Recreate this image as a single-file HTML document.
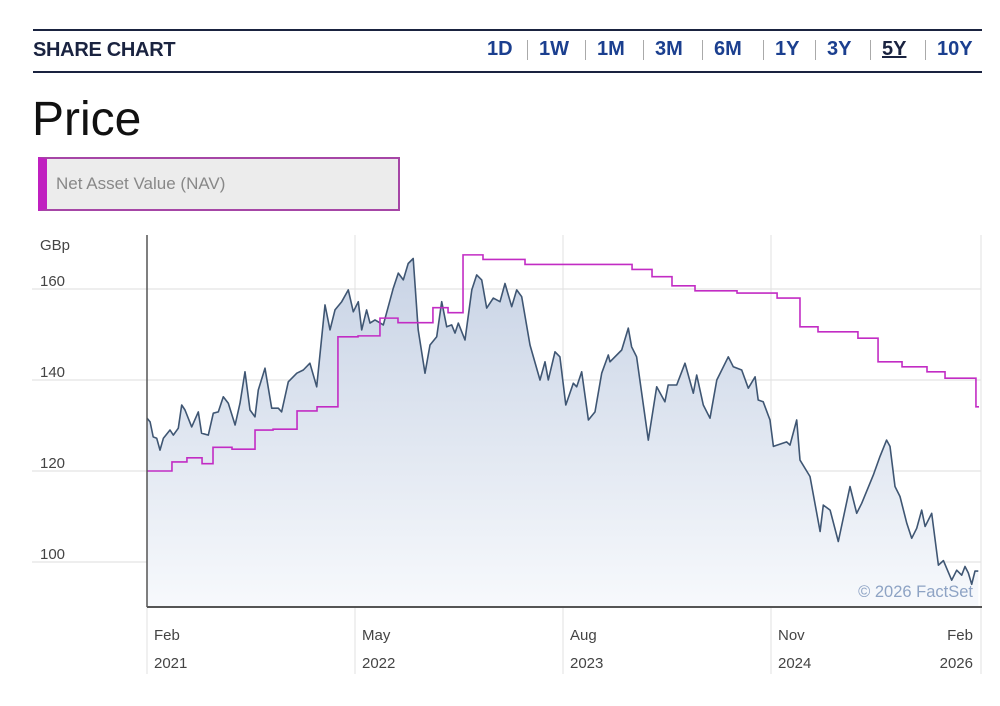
<!DOCTYPE html>
<html><head><meta charset="utf-8"><style>
body{margin:0;background:#fff;width:1000px;height:706px;overflow:hidden;font-family:"Liberation Sans",sans-serif;}
.abs{position:absolute;}
.tab{position:absolute;top:38px;font-size:20px;font-weight:bold;color:#1b3f8f;}
.sep{position:absolute;top:40px;width:1px;height:20px;background:#aaa;}
</style></head><body>
<div class="abs" style="left:33px;top:29px;width:949px;height:2px;background:#1a2340"></div>
<div class="abs" style="left:33px;top:39px;font-size:20px;font-weight:bold;color:#1a2340;letter-spacing:-0.3px">SHARE CHART</div>
<div class="abs" style="left:33px;top:71px;width:949px;height:2px;background:#1a2340"></div>
<div id="tabs"></div>
<div class="abs" style="left:32px;top:92px;font-size:48px;color:#111">Price</div>
<div class="abs" style="left:38px;top:157px;height:50px;background:#ececec;border:2px solid #a646a6;border-left:9px solid #c020c0;box-sizing:content-box;width:351px">
<span style="position:absolute;left:9px;top:15px;font-size:17px;color:#888">Net Asset Value (NAV)</span></div>
<svg class="abs" style="left:0;top:0" width="1000" height="706" id="chart">
<defs><linearGradient id="fg" x1="0" y1="0" x2="0" y2="1"><stop offset="0" stop-color="#c8d3e5"/><stop offset="1" stop-color="#f7f9fc"/></linearGradient></defs>
</svg>
<script>
const tabLabels=["1D","1W","1M","3M","6M","1Y","3Y","5Y","10Y"];
const tabX=[487,539,597,655,714,775,827,882,937];
const priceMonths=[0,0.22,0.45,0.70,0.94,1.18,1.66,1.90,2.26,2.50,2.74,3.22,3.70,3.94,4.42,4.78,5.14,5.50,5.86,6.35,6.71,7.07,7.43,7.79,8.03,8.51,8.99,9.47,9.71,10.19,10.80,11.27,11.75,12.24,12.84,13.20,13.56,14.04,14.52,14.88,15.24,15.48,15.84,16.08,16.44,17.04,17.76,18.12,18.48,18.84,19.20,19.56,20.05,20.41,20.89,21.25,21.61,21.97,22.21,22.45,22.93,23.42,23.78,24.14,24.50,24.97,25.46,25.82,26.30,26.66,27.02,27.62,28.34,28.70,28.94,29.42,29.78,30.20,30.74,30.99,31.35,31.83,32.31,32.79,33.27,33.39,34.23,34.71,34.95,35.31,36.15,36.76,37.35,37.59,38.20,38.80,39.40,39.64,40.12,40.60,41.09,41.92,42.28,42.89,43.36,43.85,44.08,44.44,44.93,45.17,46.13,46.37,46.85,47.09,47.81,48.54,48.77,49.26,49.85,50.70,51.18,51.54,52.38,52.86,53.34,53.58,53.94,54.30,54.79,55.15,55.51,55.87,56.11,56.59,57.07,57.43,58.03,58.39,58.75,58.99,59.23,59.47,59.71,59.95];
const priceValues=[131.6,130.8,127.5,127.2,124.6,127.2,129.0,127.9,129.4,134.5,133.4,129.7,133.0,128.3,127.9,132.7,133.0,136.3,134.9,130.1,134.9,141.8,133.4,131.9,137.8,142.6,133.8,133.8,133.0,139.6,141.5,142.2,143.7,138.5,156.5,151.0,155.4,157.2,159.8,155.0,157.2,151.0,155.4,152.5,153.2,152.1,160.2,163.5,162.0,165.6,166.7,151.0,141.5,147.7,149.5,157.2,151.7,152.1,150.3,152.5,148.8,159.8,163.1,162.0,155.8,158.0,157.2,161.2,156.1,159.8,158.3,147.7,140.0,144.0,140.0,146.2,145.1,134.5,139.3,138.5,141.8,131.2,133.0,141.5,145.5,144.0,146.6,151.4,147.3,145.1,126.8,138.5,135.2,138.9,138.9,143.7,137.1,141.1,134.5,131.6,140.0,145.1,142.9,142.2,138.2,140.7,135.6,135.2,131.2,125.4,126.4,125.7,131.2,122.4,118.8,106.7,112.5,111.4,104.5,116.6,110.7,112.9,119.1,123.2,126.8,125.4,116.6,114.4,108.5,105.2,107.4,111.4,107.8,110.7,99.3,100.3,96.0,98.2,97.1,99.0,97.6,95.1,98.0,98.0];
const navMonths=[0,1.80,2.88,3.97,4.76,6.13,7.79,9.09,10.82,12.26,13.77,15.22,16.80,18.10,20.62,21.71,22.79,24.23,27.26,33.25,34.98,36.42,37.86,39.52,42.55,45.44,47.09,48.39,51.27,52.72,54.45,56.25,57.55,59.78,60];
const navValues=[120.0,122.0,122.9,121.6,125.2,124.8,129.0,129.2,133.2,134.1,149.5,149.7,153.6,152.6,155.9,154.8,167.5,166.5,165.4,165.4,164.3,162.7,160.7,159.6,159.1,158.0,151.7,150.6,149.2,144.0,142.9,141.8,140.4,134.1,134.1];
const yTicks=[160,140,120,100];
const xTickMonths=[0,15,30,45,60];
const xTickMon=["Feb","May","Aug","Nov","Feb"];
const xTickYear=["2021","2022","2023","2024","2026"];

const X0=147,X1=979,Y0=607,YT=235;
const xs=m=>X0+m*(X1-X0)/60;
const ys=v=>289+(160-v)*4.55;
const NS="http://www.w3.org/2000/svg";
const svg=document.getElementById('chart');
function mk(tag,attrs,parent){const e=document.createElementNS(NS,tag);for(const k in attrs)e.setAttribute(k,attrs[k]);(parent||svg).appendChild(e);return e;}

const tabs=document.getElementById('tabs');
tabLabels.forEach((t,i)=>{
  const d=document.createElement('div');d.className='tab';d.style.left=tabX[i]+'px';d.textContent=t;
  if(t==='5Y'){d.style.textDecoration='underline';d.style.color='#1a2340';}
  
  
  tabs.appendChild(d);
  if(i>0){const s=document.createElement('div');s.className='sep';s.style.left=(tabX[i]-12)+'px';
    
    
    tabs.appendChild(s);}
});

yTicks.forEach(v=>{
  const l=mk('line',{x1:32,x2:X1+2,y1:ys(v),y2:ys(v),stroke:'#dcdcdc','stroke-width':1});
  
  
  const t=mk('text',{x:40,y:ys(v)-3,'font-size':15,fill:'#444','font-family':'Liberation Sans'});t.textContent=v;
  
  
});
xTickMonths.forEach((m,i)=>{
  const x=xs(m)+(i===4?2:0);
  const l=mk('line',{x1:x,x2:x,y1:YT,y2:674,stroke:'#e2e2e2','stroke-width':1});
  
  
  const anchor=i===4?'end':'start', tx=i===4?x-8:x+7;
  const a=mk('text',{x:tx,y:640,'font-size':15,fill:'#444','text-anchor':anchor,'font-family':'Liberation Sans'});a.textContent=xTickMon[i];
  
  
  const b=mk('text',{x:tx,y:668,'font-size':15,fill:'#444','text-anchor':anchor,'font-family':'Liberation Sans'});b.textContent=xTickYear[i];
  
  
});
const gb=mk('text',{x:40,y:250,'font-size':15,fill:'#444','font-family':'Liberation Sans'});gb.textContent='GBp';



let pts=priceMonths.map((m,i)=>xs(m).toFixed(1)+','+ys(priceValues[i]).toFixed(1));
const area=mk('path',{d:'M'+xs(priceMonths[0])+','+Y0+' L'+pts.join(' L')+' L'+xs(priceMonths[priceMonths.length-1])+','+Y0+' Z',fill:'url(#fg)'});


const pl=mk('polyline',{points:pts.join(' '),fill:'none',stroke:'#3f5673','stroke-width':1.6,'stroke-linejoin':'round'});



let nd='M'+xs(navMonths[0])+','+ys(navValues[0]);
for(let i=1;i<navMonths.length;i++){nd+=' L'+xs(navMonths[i])+','+ys(navValues[i-1])+' L'+xs(navMonths[i])+','+ys(navValues[i]);}
const nl=mk('path',{d:nd,fill:'none',stroke:'#c22cc4','stroke-width':1.6});



const ya=mk('line',{x1:X0,x2:X0,y1:YT,y2:Y0,stroke:'#555','stroke-width':1.5});


const xa=mk('line',{x1:X0,x2:X1+3,y1:Y0,y2:Y0,stroke:'#555','stroke-width':2});


const fs=mk('text',{x:973,y:597,'font-size':16.5,fill:'#8ea3c4','text-anchor':'end','font-family':'Liberation Sans'});fs.textContent='© 2026 FactSet';


</script>
</body></html>
